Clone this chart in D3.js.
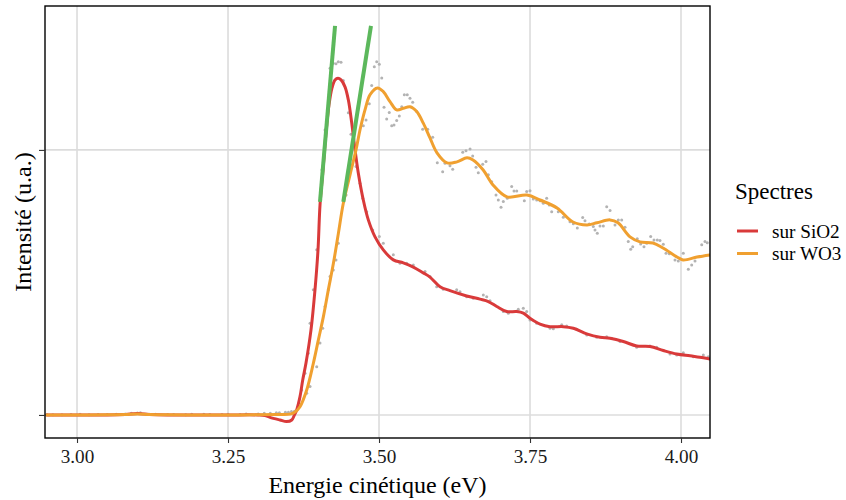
<!DOCTYPE html>
<html><head><meta charset="utf-8">
<script src="https://cdn.jsdelivr.net/npm/d3@7"></script>
<style>
html,body{margin:0;padding:0;background:#fff;}
svg{display:block;font-family:"Liberation Serif","Times New Roman",serif;}
</style></head>
<body><svg id="c" width="846" height="500"></svg>
<script>
// ---- data ----
const xTicks = [3.00, 3.25, 3.50, 3.75, 4.00];
const xTickLabels = ["3.00", "3.25", "3.50", "3.75", "4.00"];
const yTicks = [0, 1];
const seriesNames = ["sur SiO2", "sur WO3"];
const seriesColors = ["#d93a3a", "#f0a030"];

// smoothed spectrum on SiO2 [energy, intensity]
const smoothSiO2 = [[2.95,0],[3.00,0],[3.05,0],[3.08,0.002],[3.10,0.005],[3.12,0.002],[3.15,0],[3.20,0],[3.25,0],[3.30,0],[3.311,-0.002],[3.3195,-0.009],[3.336,-0.019],[3.347,-0.025],[3.3555,-0.019],[3.360,0],[3.3637,0.019],[3.3692,0.069],[3.3737,0.132],[3.3791,0.196],[3.3874,0.321],[3.394,0.472],[3.399,0.623],[3.4023,0.792],[3.4073,0.925],[3.4123,1.064],[3.4172,1.170],[3.4222,1.234],[3.4272,1.264],[3.4321,1.270],[3.4371,1.264],[3.4437,1.238],[3.4492,1.189],[3.4548,1.102],[3.4603,1.0],[3.4657,0.913],[3.474,0.811],[3.4823,0.736],[3.4934,0.672],[3.5071,0.623],[3.5237,0.585],[3.5402,0.574],[3.5568,0.558],[3.5733,0.536],[3.5844,0.520],[3.6010,0.484],[3.6175,0.469],[3.6452,0.449],[3.6672,0.437],[3.6810,0.428],[3.6949,0.409],[3.7114,0.390],[3.7280,0.390],[3.7389,0.384],[3.75,0.365],[3.7666,0.343],[3.7831,0.333],[3.8051,0.333],[3.8217,0.327],[3.8439,0.306],[3.8659,0.293],[3.8825,0.289],[3.9045,0.277],[3.9267,0.260],[3.9487,0.258],[3.9707,0.243],[3.9929,0.230],[4.0149,0.223],[4.0369,0.216],[4.048,0.211]];

// smoothed spectrum on WO3
const smoothWO3 = [[2.95,0],[3.00,0],[3.05,0.001],[3.08,0.002],[3.10,0.004],[3.12,0.002],[3.15,0.001],[3.20,0],[3.25,0],[3.30,0.001],[3.33,0.002],[3.3526,0.003],[3.3609,0.011],[3.3692,0.031],[3.3803,0.094],[3.3913,0.195],[3.3996,0.283],[3.4079,0.371],[3.4161,0.472],[3.4245,0.572],[3.4328,0.686],[3.4409,0.799],[3.452,0.906],[3.4619,1.0],[3.4685,1.075],[3.4768,1.151],[3.4851,1.208],[3.4975,1.234],[3.5071,1.22],[3.5182,1.182],[3.5293,1.151],[3.5402,1.157],[3.5513,1.163],[3.5624,1.145],[3.5733,1.101],[3.5844,1.045],[3.596,0.989],[3.6126,0.951],[3.6291,0.955],[3.6457,0.970],[3.6556,0.962],[3.6722,0.925],[3.6887,0.868],[3.7119,0.823],[3.745,0.830],[3.7666,0.811],[3.7947,0.781],[3.8212,0.728],[3.8444,0.717],[3.8609,0.725],[3.8825,0.736],[3.8957,0.725],[3.9156,0.672],[3.9321,0.653],[3.9536,0.649],[3.9702,0.630],[3.9934,0.596],[4.0033,0.585],[4.0265,0.596],[4.048,0.604]];

// raw measured points
const rawSiO2 = [[2.96,0.001],[2.99,0.002],[3.02,0.001],[3.05,0.002],[3.08,0.004],[3.10,0.007],[3.12,0.003],[3.15,0.002],[3.18,0.001],[3.21,0.003],[3.24,0.002],[3.27,0.002],[3.30,0.004],[3.32,0.006],[3.335,0.008],[3.35,0.010],[3.36,0.014],[3.372,0.094],[3.3775,0.157],[3.3829,0.233],[3.3858,0.346],[3.3912,0.472],[3.3969,0.623],[3.4056,0.925],[3.4106,1.075],[3.4134,1.094],[3.4189,1.308],[3.4243,1.327],[3.4288,1.325],[3.4326,1.333],[3.4371,1.331],[3.4409,1.262],[3.4492,1.140],[3.4536,1.059],[3.4603,0.975],[3.4619,0.937],[3.4685,0.874],[3.4730,0.818],[3.4796,0.767],[3.4896,0.698],[3.5005,0.673],[3.5071,0.648],[3.5237,0.604],[3.5348,0.572],[3.5459,0.572],[3.5568,0.566],[3.5762,0.541],[3.5844,0.522],[3.5955,0.484],[3.6064,0.474],[3.6286,0.472],[3.6341,0.465],[3.6452,0.446],[3.6561,0.440],[3.6727,0.453],[3.6783,0.446],[3.6838,0.431],[3.7058,0.390],[3.7141,0.384],[3.7306,0.399],[3.7389,0.403],[3.7445,0.390],[3.7500,0.358],[3.7611,0.346],[3.7831,0.327],[3.7886,0.325],[3.8025,0.340],[3.8107,0.336],[3.8273,0.323],[3.8439,0.302],[3.8604,0.293],[3.8770,0.295],[3.8852,0.289],[3.8990,0.277],[3.9266,0.255],[3.9487,0.260],[3.9598,0.255],[3.9818,0.230],[3.9929,0.226],[4.0038,0.235],[4.0204,0.220],[4.0369,0.226],[4.0452,0.220]];

const rawWO3 = [[2.95,0.002],[2.975,0.001],[3.005,0.003],[3.035,0.002],[3.065,0.003],[3.09,0.006],[3.105,0.008],[3.13,0.003],[3.16,0.002],[3.19,0.003],[3.22,0.002],[3.25,0.003],[3.28,0.004],[3.31,0.006],[3.33,0.008],[3.345,0.010],[3.355,0.013],[3.3803,0.082],[3.3858,0.107],[3.3969,0.182],[3.4023,0.271],[3.4068,0.327],[3.4106,0.409],[3.4161,0.472],[3.4189,0.522],[3.4243,0.547],[3.4288,0.585],[3.4326,0.648],[3.4454,0.830],[3.4553,0.943],[3.4740,1.091],[3.4785,1.113],[3.4839,1.174],[3.4879,1.243],[3.4922,1.314],[3.4962,1.333],[3.5005,1.323],[3.5045,1.271],[3.5083,1.161],[3.5127,1.117],[3.5170,1.141],[3.5210,1.091],[3.5248,1.094],[3.5293,1.111],[3.5336,1.128],[3.5376,1.163],[3.5419,1.208],[3.5468,1.208],[3.5513,1.195],[3.5558,1.180],[3.5624,1.145],[3.5723,1.078],[3.5806,1.078],[3.5889,1.048],[3.5965,0.952],[3.6054,0.918],[3.6093,0.950],[3.6175,0.940],[3.6220,0.927],[3.6386,0.991],[3.6440,0.997],[3.6507,1.003],[3.6551,0.977],[3.6606,0.935],[3.6644,0.914],[3.6717,0.946],[3.6771,0.956],[3.6810,0.906],[3.6866,0.880],[3.6937,0.830],[3.6975,0.811],[3.7020,0.784],[3.7058,0.805],[3.7124,0.818],[3.7197,0.862],[3.7235,0.845],[3.7280,0.845],[3.7406,0.808],[3.7445,0.843],[3.7500,0.846],[3.7554,0.815],[3.7611,0.811],[3.7665,0.808],[3.7720,0.799],[3.7776,0.818],[3.7819,0.792],[3.7859,0.767],[3.7930,0.784],[3.7968,0.767],[3.8051,0.746],[3.8162,0.729],[3.8217,0.721],[3.8283,0.705],[3.8372,0.745],[3.8410,0.733],[3.8481,0.720],[3.8548,0.711],[3.8576,0.698],[3.8614,0.686],[3.8659,0.713],[3.8714,0.713],[3.8770,0.786],[3.8825,0.771],[3.8907,0.717],[3.8962,0.736],[3.9018,0.736],[3.9073,0.708],[3.9127,0.654],[3.9167,0.625],[3.9200,0.635],[3.9276,0.665],[3.9332,0.645],[3.9387,0.635],[3.9432,0.648],[3.9498,0.673],[3.9553,0.660],[3.9608,0.660],[3.9652,0.658],[3.9707,0.644],[3.9752,0.610],[3.9806,0.608],[3.9901,0.585],[3.9955,0.581],[4.0038,0.610],[4.0121,0.550],[4.0177,0.566],[4.0232,0.581],[4.0343,0.642],[4.0397,0.654],[4.0435,0.650]];

// tangent lines (onset construction)
const tangentSiO2 = [[3.4023,0.804],[3.4272,1.468]];
const tangentWO3 = [[3.4409,0.804],[3.4867,1.468]];

// ---- chart ----
const FONT = "Liberation Serif, Times New Roman, serif";
const svg = d3.select("#c");
const P = {l:45, r:710, t:6, b:438};
const x = d3.scaleLinear().domain([2.947, 4.048]).range([P.l, P.r]);
const y = d3.scaleLinear().domain([-0.087, 1.543]).range([P.b, P.t]);

svg.append("rect").attr("width",846).attr("height",500).attr("fill","#fff");
svg.append("defs").append("clipPath").attr("id","clip")
  .append("rect").attr("x",P.l).attr("y",P.t).attr("width",P.r-P.l).attr("height",P.b-P.t);

const grid = svg.append("g");
grid.selectAll(".vx").data(xTicks).join("line")
  .attr("x1",d=>x(d)).attr("x2",d=>x(d)).attr("y1",P.t).attr("y2",P.b)
  .attr("stroke","#dcdcdc").attr("stroke-width",1.6);
grid.selectAll(".hy").data(yTicks).join("line")
  .attr("y1",d=>y(d)).attr("y2",d=>y(d)).attr("x1",P.l).attr("x2",P.r)
  .attr("stroke","#dcdcdc").attr("stroke-width",1.6);

const plot = svg.append("g").attr("clip-path","url(#clip)");
const rawAll = rawSiO2.concat(rawWO3);
plot.selectAll("circle").data(rawAll).join("circle")
  .attr("cx",d=>x(d[0])).attr("cy",d=>y(d[1])).attr("r",1.5)
  .attr("fill","#b3b3b3");

const line = d3.line().x(d=>x(d[0])).y(d=>y(d[1])).curve(d3.curveCatmullRom.alpha(0.5));
[smoothSiO2, smoothWO3].forEach((s,i)=>{
  plot.append("path").attr("d",line(s)).attr("fill","none")
    .attr("stroke",seriesColors[i]).attr("stroke-width",3)
    .attr("stroke-linejoin","round").attr("stroke-linecap","round");
});
const straight = d3.line().x(d=>x(d[0])).y(d=>y(d[1]));
[tangentSiO2, tangentWO3].forEach(t=>{
  plot.append("path").attr("d",straight(t)).attr("fill","none")
    .attr("stroke","#5cb85c").attr("stroke-width",4);
});

svg.append("rect").attr("x",P.l).attr("y",P.t).attr("width",P.r-P.l).attr("height",P.b-P.t)
  .attr("fill","none").attr("stroke","#000").attr("stroke-width",1.4);

// axes
const xAxis = svg.append("g").attr("transform",`translate(0,${P.b})`)
  .call(d3.axisBottom(x).tickValues(xTicks).tickFormat((d,i)=>xTickLabels[i]).tickSize(5).tickPadding(6))
  .attr("font-family",FONT).attr("font-size",19.2);
xAxis.select(".domain").remove();
xAxis.selectAll("line").attr("stroke","#333").attr("stroke-width",1.1);
xAxis.selectAll("text").attr("fill","#1a1a1a").style("font-family",FONT).style("font-size","19.2px");

const yAxis = svg.append("g").attr("transform",`translate(${P.l},0)`)
  .call(d3.axisLeft(y).tickValues(yTicks).tickFormat("").tickSize(6));
yAxis.select(".domain").remove();
yAxis.selectAll("line").attr("stroke","#333").attr("stroke-width",1.1);

svg.append("text").attr("x",(P.l+P.r)/2).attr("y",493).attr("text-anchor","middle")
  .style("font-family",FONT).attr("font-size","24px").attr("fill","#000").text("Energie cinétique (eV)");
svg.append("text").attr("transform",`translate(31,${(P.t+P.b)/2}) rotate(-90)`)
  .style("font-family",FONT).attr("text-anchor","middle").attr("font-size","24px").attr("fill","#000").text("Intensité (u.a.)");

// legend
const lg = svg.append("g").style("font-family",FONT);
lg.append("text").attr("x",735).attr("y",199).attr("font-size","23px").attr("fill","#000").text("Spectres");
seriesNames.forEach((n,i)=>{
  const cy = 231 + i*22.5;
  lg.append("line").attr("x1",737).attr("x2",758).attr("y1",cy).attr("y2",cy)
    .attr("stroke",seriesColors[i]).attr("stroke-width",3);
  lg.append("text").attr("x",772).attr("y",cy+6.5).attr("font-size","19.2px").attr("fill","#000").text(n);
});
</script></body></html>
